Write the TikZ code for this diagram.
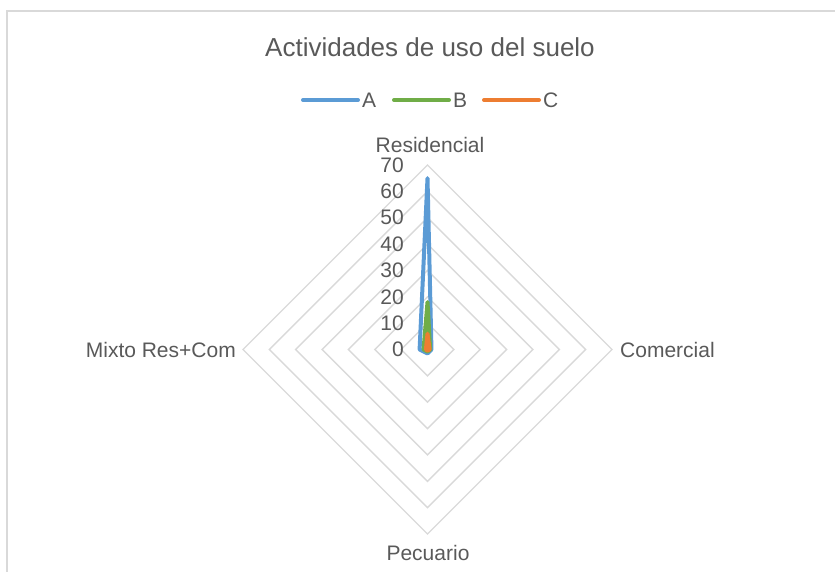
\documentclass[tikz,border=0pt]{standalone}
\usepackage{fontspec}
\setmainfont{Liberation Sans}
\definecolor{txtgray}{HTML}{595959}
\definecolor{gridgray}{HTML}{D9D9D9}
\definecolor{serA}{HTML}{5B9BD5}
\definecolor{serB}{HTML}{70AD47}
\definecolor{serC}{HTML}{ED7D31}
\begin{document}
\begin{tikzpicture}[x=1pt,y=-1pt,
  lbl/.style={text=txtgray, font=\fontsize{21}{25}\selectfont, inner sep=0pt},
  ttl/.style={text=txtgray, font=\fontsize{26}{30}\selectfont, inner sep=0pt},
  gridline/.style={draw=gridgray, line width=1.4pt},
  framebox/.style={draw=gridgray, line width=1.6pt},
  series/.style={line width=4pt, line join=round, line cap=round}]
\useasboundingbox (0,0) rectangle (835,572);
\draw[framebox] (7,572) -- (7,11) -- (835,11);
\def\cx{427.5}
\def\cy{349.5}
\def\st{26.357}
% grid rings
\foreach \k in {1,...,7}
  \draw[gridline] (\cx,\cy-\k*\st) -- (\cx+\k*\st,\cy) -- (\cx,\cy+\k*\st) -- (\cx-\k*\st,\cy) -- cycle;
% value labels
\foreach \k/\v in {0/0,1/10,2/20,3/30,4/40,5/50,6/60,7/70}
  \node[lbl, anchor=east] (val\k) at (404,\cy-\k*\st) {\v};
% category labels
\node[lbl] (res) at (430,145) {Residencial};
\node[lbl, anchor=west] (com) at (620,350) {Comercial};
\node[lbl, anchor=east] (mix) at (236,350) {Mixto Res+Com};
\node[lbl] (pec) at (428,553) {Pecuario};
% title
\node[ttl] (title) at (430,47) {Actividades de uso del suelo};
% series (unit = st/10)
\def\u{2.6357}
\draw[series, serA] (\cx,\cy-65*\u) -- (\cx+1.5*\u,\cy) -- (\cx,\cy+1.5*\u) -- (\cx-3*\u,\cy) -- cycle;
\draw[series, serB] (\cx,\cy-18*\u) -- (\cx+1*\u,\cy) -- (\cx,\cy+0.8*\u) -- (\cx-1.5*\u,\cy) -- cycle;
\draw[series, serC] (\cx,\cy-6*\u) -- (\cx+0.8*\u,\cy) -- (\cx,\cy+0.4*\u) -- (\cx-0.6*\u,\cy) -- cycle;
% legend
\coordinate (la1) at (303,100); \coordinate (la2) at (358,100);
\coordinate (lb1) at (394,100); \coordinate (lb2) at (449,100);
\coordinate (lc1) at (484,100); \coordinate (lc2) at (539,100);
\draw[series, serA] (la1) -- (la2);
\draw[series, serB] (lb1) -- (lb2);
\draw[series, serC] (lc1) -- (lc2);
\node[lbl, anchor=west] (legA) at (362,100) {A};
\node[lbl, anchor=west] (legB) at (453,100) {B};
\node[lbl, anchor=west] (legC) at (543,100) {C};
\end{tikzpicture}
\end{document}
